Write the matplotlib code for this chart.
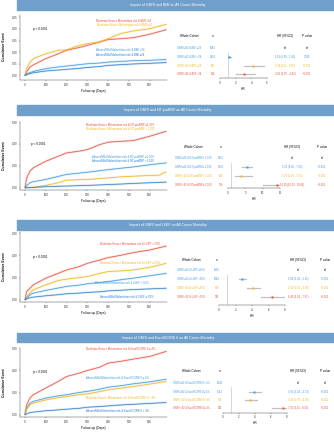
import numpy as np
import matplotlib
matplotlib.use('Agg')
import matplotlib.pyplot as plt
from matplotlib.patches import Rectangle

plt.rcParams['font.family'] = ['Liberation Sans', 'DejaVu Sans']

# Colours
RED = '#e8503f'
YEL = '#f0b61e'
BLUE = '#3d9be0'
BLUE2 = '#2a7fcf'
BAR = '#6f9fcb'

# ---------------- Data ----------------
# Panel 1: GNRI and BMI
bmi_t = [0, 8, 24, 40, 100, 160, 200, 260, 300, 360, 400, 460, 520, 600, 680]
bmi_mod_hi = [0, 0.03, 0.057, 0.072, 0.093, 0.108, 0.11, 0.129, 0.137, 0.144, 0.158, 0.18, 0.191, 0.201, 0.22]
bmi_mod_lo = [0, 0.015, 0.036, 0.045, 0.072, 0.093, 0.108, 0.12, 0.129, 0.144, 0.154, 0.158, 0.162, 0.177, 0.197]
bmi_abs_lo = [0, 0.005, 0.012, 0.017, 0.029, 0.036, 0.04, 0.046, 0.05, 0.053, 0.057, 0.06, 0.063, 0.065, 0.068]
bmi_abs_hi = [0, 0.003, 0.008, 0.011, 0.019, 0.023, 0.026, 0.03, 0.034, 0.038, 0.043, 0.046, 0.049, 0.052, 0.055]
bmi_groups = ['GNRI \u226592 & BMI \u226524', 'GNRI \u226592 & BMI <24', 'GNRI <92 & BMI \u226524', 'GNRI <92 & BMI <24']
bmi_n = ['3681', '4014', '291', '534']
bmi_hr = [1.19, 4.19, 3.01]
bmi_lo = [0.99, 3.11, 2.05]
bmi_hi = [1.43, 5.65, 4.42]
bmi_p = ['ref', '0.061', '<0.001', '<0.001']

# Panel 2: GNRI and NT-proBNP
bnp_t = [0, 8, 24, 40, 100, 160, 200, 260, 300, 360, 400, 460, 520, 600, 680]
bnp_mod_hi = [0, 0.045, 0.076, 0.091, 0.121, 0.144, 0.159, 0.167, 0.174, 0.197, 0.208, 0.212, 0.215, 0.235, 0.258]
bnp_abs_hi = [0, 0.01, 0.023, 0.028, 0.038, 0.052, 0.061, 0.067, 0.071, 0.078, 0.083, 0.089, 0.095, 0.105, 0.114]
bnp_t_mod_lo = [0, 40, 100, 160, 200, 260, 300, 360, 400, 460, 520, 600, 650, 665, 680]
bnp_mod_lo = [0, 0.002, 0.011, 0.023, 0.035, 0.037, 0.038, 0.042, 0.045, 0.05, 0.053, 0.056, 0.058, 0.068, 0.071]
bnp_abs_lo = [0, 0.0, 0.001, 0.002, 0.005, 0.007, 0.008, 0.01, 0.011, 0.013, 0.015, 0.017, 0.02, 0.023, 0.026]
bnp_groups = ['GNRI \u226592 & NT-proBNP< 1,000', 'GNRI \u226592 & NT-proBNP\u2265 1,000',
              'GNRI <92 & NT-proBNP< 1,000', 'GNRI <92 & NT-proBNP\u2265 1,000']
bnp_n = ['2222', '3430', '149', '756']
bnp_hr = [5.36, 3.79, 14.15]
bnp_lo = [4.06, 2.06, 10.19]
bnp_hi = [7.03, 7.03, 19.66]
bnp_p = ['ref', '<0.001', '<0.001', '<0.001']

# Panel 3: GNRI and LVEF
lvef_t = [0, 8, 24, 40, 100, 160, 200, 260, 300, 360, 400, 460, 520, 600, 680]
lvef_mod_lo = [0, 0.037, 0.052, 0.067, 0.097, 0.119, 0.134, 0.149, 0.164, 0.179, 0.19, 0.2, 0.212, 0.224, 0.242]
lvef_mod_hi = [0, 0.012, 0.03, 0.045, 0.067, 0.087, 0.093, 0.1, 0.104, 0.119, 0.127, 0.13, 0.134, 0.146, 0.164]
lvef_abs_lo = [0, 0.008, 0.022, 0.03, 0.042, 0.053, 0.06, 0.066, 0.072, 0.078, 0.082, 0.09, 0.097, 0.108, 0.119]
lvef_abs_hi = [0, 0.004, 0.009, 0.012, 0.018, 0.023, 0.027, 0.03, 0.033, 0.036, 0.04, 0.043, 0.046, 0.049, 0.052]
lvef_groups = ['GNRI \u226592 & LVEF \u226550%', 'GNRI \u226592 & LVEF <50%', 'GNRI <92 & LVEF \u226550%', 'GNRI <92 & LVEF <50%']
lvef_n = ['5629', '1994', '768', '335']
lvef_hr = [2.80, 4.10, 6.40]
lvef_lo = [2.41, 3.37, 5.14]
lvef_hi = [3.25, 4.98, 7.97]
lvef_p = ['ref', '<0.001', '<0.001', '<0.001']

# Panel 4: GNRI and EuroSCORE II
euro_t = [0, 8, 24, 40, 100, 160, 200, 260, 300, 360, 400, 460, 520, 600, 680]
euro_mod_hi = [0, 0.045, 0.075, 0.09, 0.12, 0.15, 0.172, 0.187, 0.199, 0.214, 0.232, 0.24, 0.25, 0.262, 0.285]
euro_abs_hi = [0, 0.03, 0.052, 0.06, 0.075, 0.085, 0.09, 0.1, 0.105, 0.115, 0.124, 0.13, 0.139, 0.148, 0.16]
euro_mod_lo = [0, 0.025, 0.045, 0.052, 0.067, 0.077, 0.082, 0.09, 0.094, 0.104, 0.112, 0.119, 0.127, 0.138, 0.15]
euro_abs_lo = [0, 0.004, 0.01, 0.012, 0.018, 0.022, 0.025, 0.029, 0.034, 0.037, 0.04, 0.044, 0.047, 0.051, 0.055]
euro_groups = ['GNRI \u226592 & EuroSCORE II< 4%', 'GNRI \u226592 & EuroSCORE II\u2265 4%',
               'GNRI <92 & EuroSCORE II< 4%', 'GNRI <92 & EuroSCORE II\u2265 4%']
euro_n = ['6443', '1133', '756', '392']
euro_hr = [3.91, 3.43, 7.56]
euro_lo = [3.24, 2.75, 6.13]
euro_hi = [4.73, 4.28, 9.32]
euro_p = ['ref', '<0.001', '<0.001', '<0.001']

# ---------------- Figure ----------------
W, H = 334, 440
fig = plt.figure(figsize=(W / 100, H / 100), dpi=100)
fig.patch.set_facecolor('white')


def px_axes(x0, y0, x1, y1):
    return fig.add_axes([x0 / W, 1 - y1 / H, (x1 - x0) / W, (y1 - y0) / H])


def ftext(x, y, s, **kw):
    kw.setdefault('ha', 'center')
    kw.setdefault('va', 'center')
    fig.text(x / W, 1 - y / H, s, **kw)


def style_axis(ax):
    for s in ['top', 'right']:
        ax.spines[s].set_visible(False)
    for s in ['left', 'bottom']:
        ax.spines[s].set_linewidth(0.35)
        ax.spines[s].set_color('#555555')
    ax.tick_params(labelsize=2.1, length=1, width=0.3, pad=0.8, colors='#333333')


panels = [
    dict(title='Impact of GNRI and BMI on All Cause Mortality', bar=(0, 10),
         km=(20, 15, 167, 80), ylim=(-0.02, 0.26), yticks=[0, 0.05, 0.1, 0.15, 0.2, 0.25],
         curves=[(bmi_t, bmi_mod_lo, RED), (bmi_t, bmi_mod_hi, YEL),
                 (bmi_t, bmi_abs_lo, BLUE), (bmi_t, bmi_abs_hi, BLUE2)],
         labels=[(96, 20.5, 'Moderate/Severe Malnutrition risk & BMI <24', RED),
                 (97, 25, 'Moderate/Severe Malnutrition risk & BMI \u226524', YEL),
                 (96, 50, 'Absent/Mild Malnutrition risk & BMI <24', BLUE),
                 (96, 54.5, 'Absent/Mild Malnutrition risk & BMI \u226524', BLUE2)],
         pval=(40, 29), ylab_y=47,
         groups=bmi_groups, n=bmi_n, hr=bmi_hr, lo=bmi_lo, hi=bmi_hi, p=bmi_p,
         head_y=36, rows=[48.3, 57.3, 65.7, 74.3], lab_x=189, n_x=213,
         fx=(220, 267), fax_y=78.3, fxlim=(0, 6), fticks=[0, 2, 4, 6], hr_x=285, p_x=307),
    dict(title='Impact of GNRI and NT-proBNP on All Cause Mortality', bar=(105, 115),
         km=(20, 122, 167, 190), ylim=(-0.01, 0.30), yticks=[0, 0.1, 0.2, 0.3],
         curves=[(bnp_t, bnp_mod_hi, RED), (bnp_t_mod_lo, bnp_mod_lo, YEL),
                 (bnp_t, bnp_abs_hi, BLUE), (bnp_t, bnp_abs_lo, BLUE2)],
         labels=[(86, 124.7, 'Moderate/Severe Malnutrition risk & NT-proBNP \u22651,000', RED),
                 (86, 129.3, 'Moderate/Severe Malnutrition risk & NT-proBNP < 1,000', YEL),
                 (92, 157.3, 'Absent/Mild Malnutrition risk & NT-proBNP \u22651,000', BLUE),
                 (92, 160.7, 'Absent/Mild Malnutrition risk & NT-proBNP <1,000', BLUE2)],
         pval=(38, 144), ylab_y=156,
         groups=bnp_groups, n=bnp_n, hr=bnp_hr, lo=bnp_lo, hi=bnp_hi, p=bnp_p,
         head_y=147.3, rows=[158.3, 167.3, 176, 185], lab_x=193, n_x=221,
         fx=(228, 280), fax_y=188, fxlim=(0, 15), fticks=[0, 5, 10, 15], hr_x=292, p_x=322),
    dict(title='Impact of GNRI and LVEF on All Cause Mortality', bar=(220, 230),
         km=(20, 232, 167, 302), ylim=(-0.01, 0.305), yticks=[0, 0.1, 0.2, 0.3],
         curves=[(lvef_t, lvef_mod_lo, RED), (lvef_t, lvef_mod_hi, YEL),
                 (lvef_t, lvef_abs_lo, BLUE), (lvef_t, lvef_abs_hi, BLUE2)],
         labels=[(100, 244, 'Moderate/Severe Malnutrition risk & LVEF < 50%', RED),
                 (100, 263.3, 'Moderate/Severe Malnutrition risk & LVEF \u2265 50%', YEL),
                 (95, 283.3, 'Absent/Mild Malnutrition risk & LVEF < 50%', BLUE),
                 (100, 296.7, 'Absent/Mild Malnutrition risk & LVEF \u2265 50%', BLUE2)],
         pval=(40, 257), ylab_y=267,
         groups=lvef_groups, n=lvef_n, hr=lvef_hr, lo=lvef_lo, hi=lvef_hi, p=lvef_p,
         head_y=260, rows=[270, 279, 288.3, 296.7], lab_x=191, n_x=217,
         fx=(219, 285), fax_y=305, fxlim=(0, 8), fticks=[0, 2, 4, 6, 8], hr_x=298, p_x=325),
    dict(title='Impact of GNRI and EuroSCORE II on All Cause Mortality', bar=(333, 342),
         km=(20, 348, 167, 417), ylim=(-0.01, 0.30), yticks=[0, 0.1, 0.2, 0.3],
         curves=[(euro_t, euro_mod_hi, RED), (euro_t, euro_abs_hi, BLUE),
                 (euro_t, euro_mod_lo, YEL), (euro_t, euro_abs_lo, BLUE2)],
         labels=[(86, 349, 'Moderate/Severe Malnutrition risk & EuroSCORE II \u2265 4%', RED),
                 (86, 378, 'Absent/Mild Malnutrition risk & EuroSCORE II \u2265 4%', BLUE),
                 (86, 397.7, 'Moderate/Severe Malnutrition risk & EuroSCORE II < 4%', YEL),
                 (86, 411, 'Absent/Mild Malnutrition risk & EuroSCORE II < 4%', BLUE2)],
         pval=(40, 371.7), ylab_y=383,
         groups=euro_groups, n=euro_n, hr=euro_hr, lo=euro_lo, hi=euro_hi, p=euro_p,
         head_y=370.7, rows=[382.7, 391.7, 400, 408.3], lab_x=191, n_x=220,
         fx=(223, 287), fax_y=412.7, fxlim=(0, 8), fticks=[0, 2, 4, 6, 8], hr_x=298, p_x=325),
]

row_colors = [BLUE, BLUE, YEL, RED]

for p in panels:
    # title bar
    b0, b1 = p['bar']
    fig.patches.append(Rectangle((17 / W, 1 - b1 / H), (W - 17) / W, (b1 - b0) / H,
                                 transform=fig.transFigure, color=BAR, zorder=0))
    ftext(168, (b0 + b1) / 2, p['title'], color='white', fontsize=2.6)

    # cumulative event curves
    x0, y0, x1, y1 = p['km']
    ax = px_axes(x0, y0, x1, y1)
    for t, v, c in p['curves']:
        ax.plot(t, v, color=c, lw=1.6, alpha=0.2, solid_capstyle='butt')
        ax.plot(t, v, color=c, lw=0.5)
    ax.set_xlim(-24, 683)
    ax.set_ylim(*p['ylim'])
    ax.set_xticks([0, 100, 200, 300, 400, 500, 600])
    ax.set_yticks(p['yticks'])
    ax.set_yticklabels(['%.2f' % v for v in p['yticks']])
    style_axis(ax)
    ax.set_xlabel('Follow-up (Days)', fontsize=2.3, labelpad=1.5)
    ftext(4, p['ylab_y'], 'Cumulative Event', fontsize=2.4, rotation=90, fontweight='bold')
    ftext(p['pval'][0], p['pval'][1], 'p < 0.0001', fontsize=2.2)
    for lx, ly, s, c in p['labels']:
        ftext(lx, ly, s, color=c, fontsize=2.0, ha='left')

    # table
    hy = p['head_y']
    ftext(p['lab_x'], hy, 'Whole Cohort', fontsize=2.2)
    ftext(p['n_x'], hy, 'n', fontsize=2.2)
    ftext(p['hr_x'], hy, 'HR (95%CI)', fontsize=2.2)
    ftext(p['p_x'], hy, 'P value', fontsize=2.2)
    hr_txt = ['ref'] + ['%.2f (%.2f - %.2f)' % (h, l, u) for h, l, u in zip(p['hr'], p['lo'], p['hi'])]
    for i, ry in enumerate(p['rows']):
        c = row_colors[i]
        ftext(p['lab_x'], ry, p['groups'][i], color=c, fontsize=1.85)
        ftext(p['n_x'], ry, p['n'][i], color=c, fontsize=1.9)
        ftext(p['hr_x'], ry, hr_txt[i], color='black' if i == 0 else c, fontsize=1.9)
        ftext(p['p_x'], ry, p['p'][i], color='black' if i == 0 else c, fontsize=1.9)

    # forest plot
    rows = p['rows']
    dy = (rows[3] - rows[0]) / 3
    fx0, fx1 = p['fx']
    top_px = rows[1] - 0.5 * dy
    fax = px_axes(fx0, top_px, fx1, p['fax_y'])
    ybot = 3 + (p['fax_y'] - rows[3]) / dy
    fax.set_ylim(ybot, 0.5)
    fax.set_xlim(*p['fxlim'])
    fax.axvline(1, color='#b8c8da', lw=0.5)
    for i in range(3):
        h, l, u = p['hr'][i], p['lo'][i], p['hi'][i]
        fax.plot([l, u], [i + 1, i + 1], color='#999999', lw=0.9, alpha=0.6)
        fax.plot([h], [i + 1], marker='s', ms=1.9, color=row_colors[i + 1], mec='none')
    fax.set_xticks(p['fticks'])
    fax.set_yticks([])
    fax.spines['left'].set_visible(False)
    style_axis(fax)
    fax.set_xlabel('HR', fontsize=2.3, labelpad=1.5)

fig.savefig('out.png', dpi=100, facecolor='white')
